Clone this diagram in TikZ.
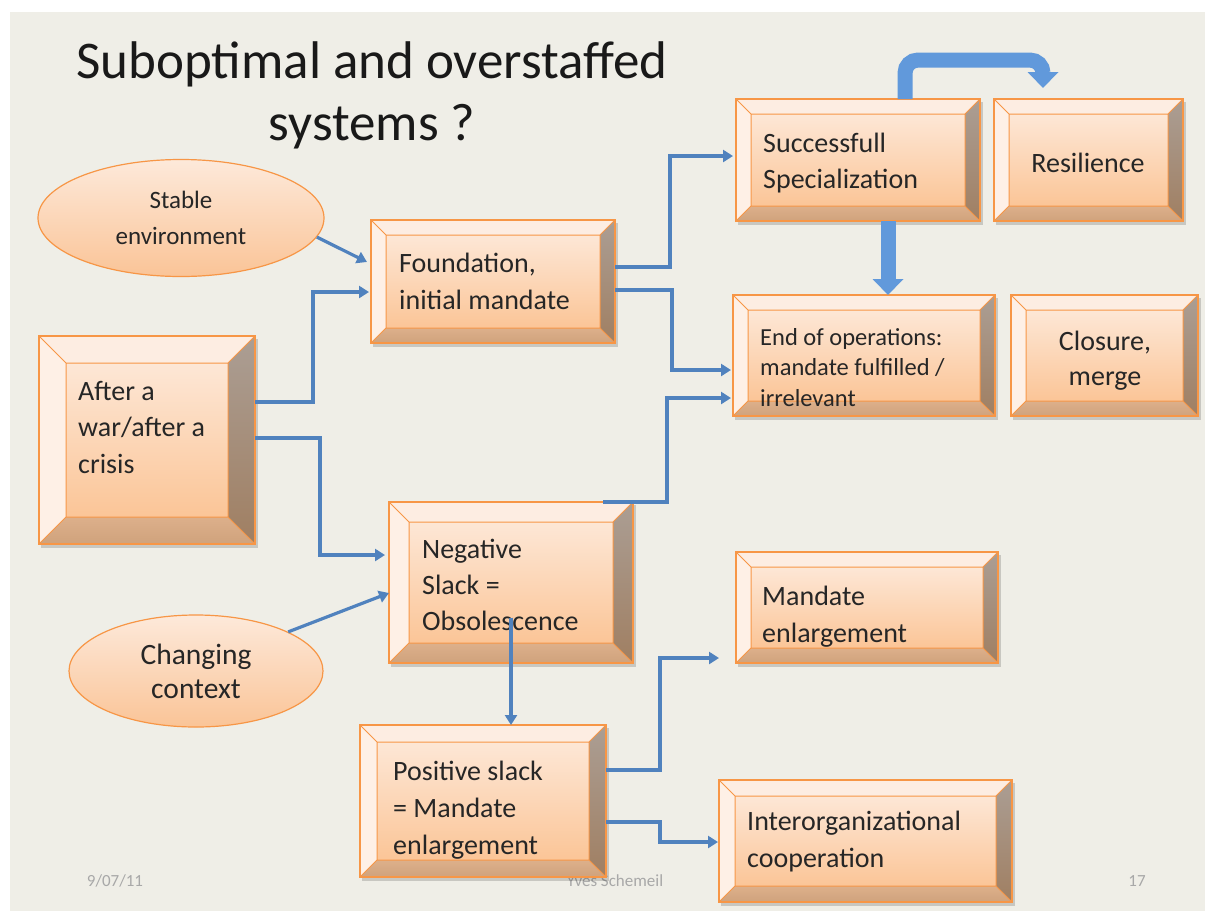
\documentclass[tikz,border=0pt]{standalone}
\usepackage{fontspec}
\setmainfont{Carlito}
\usetikzlibrary{arrows.meta,shapes.geometric,calc}
\definecolor{slidebg}{HTML}{EFEEE7}
\definecolor{bord}{HTML}{F79646}
\definecolor{facetop}{HTML}{FDE7D6}
\definecolor{facebot}{HTML}{FBC597}
\definecolor{bevtop}{HTML}{FDEDE2}
\definecolor{bevleft}{HTML}{FEF0E6}
\definecolor{bevbottop}{HTML}{DDB08B}
\definecolor{bevbotbot}{HTML}{CFA27C}
\definecolor{bevrtop}{HTML}{AB9E94}
\definecolor{bevrbot}{HTML}{A07F62}
\definecolor{ellitop}{HTML}{FDE9DA}
\definecolor{ellibot}{HTML}{FAC497}
\definecolor{arrowblue}{HTML}{5082BE}
\definecolor{bigblue}{HTML}{6199DB}
\definecolor{foot}{HTML}{A8A8A8}
\definecolor{txt}{HTML}{262626}
\tikzset{
  boxnode/.style={rectangle, inner sep=0pt, outer sep=0pt},
  ell/.style={ellipse, draw=bord, line width=1.2pt, top color=ellitop, bottom color=ellibot, inner sep=0pt, align=center, text=txt, font=\fontsize{25}{36}\selectfont},
  arr/.style={draw=arrowblue, line width=3.2pt, -{Triangle[length=10pt,width=12pt]}},
  bigarr/.style={draw=bigblue, line width=15pt, -{Triangle[length=16pt,width=30pt]}},
  boxtext/.style={anchor=base west, align=left, inner sep=0pt, text=txt, font=\fontsize{28}{37}\selectfont},
  ctext/.style={anchor=base, align=center, inner sep=0pt, text=txt, font=\fontsize{28}{35}\selectfont},
  foottext/.style={anchor=base, inner sep=0pt, text=foot, font=\fontsize{17}{20}\selectfont},
}
\newcommand\drawbevel[2]{%
  \coordinate (o1) at (#1.north west);
  \coordinate (o2) at (#1.north east);
  \coordinate (o3) at (#1.south east);
  \coordinate (o4) at (#1.south west);
  \coordinate (i1) at ([shift={(#2pt,-#2pt)}]#1.north west);
  \coordinate (i2) at ([shift={(-#2pt,-#2pt)}]#1.north east);
  \coordinate (i3) at ([shift={(-#2pt,#2pt)}]#1.south east);
  \coordinate (i4) at ([shift={(#2pt,#2pt)}]#1.south west);
  \fill[black, opacity=.16] ([shift={(2pt,-3pt)}]#1.north west) rectangle ([shift={(3pt,-4pt)}]#1.south east);
  \shade[top color=facetop, bottom color=facebot] (i1) rectangle (i3);
  \fill[bevtop] (o1)--(o2)--(i2)--(i1)--cycle;
  \fill[bevleft] (o1)--(i1)--(i4)--(o4)--cycle;
  \shade[top color=bevbottop, bottom color=bevbotbot] (o4)--(i4)--(i3)--(o3)--cycle;
  \shade[top color=bevrtop, bottom color=bevrbot] (o2)--(o3)--(i3)--(i2)--cycle;
  \draw[bord, line width=1pt] (o1)--(i1) (o2)--(i2) (o3)--(i3) (o4)--(i4) (i1) rectangle (i3);
  \draw[bord, line width=1.5pt] (o1) rectangle (o3);
}
\newcommand\bevelbox[6]{%
  \pgfmathsetmacro\bxw{#4-#2}\pgfmathsetmacro\bxh{#5-#3}%
  \node[boxnode, minimum width=\bxw pt, minimum height=\bxh pt] (#1) at ({(#2+#4)/2},{(#3+#5)/2}) {};
  \drawbevel{#1}{#6}}
\begin{document}
\begin{tikzpicture}[x=1pt,y=-1pt]
\useasboundingbox (0,0) rectangle (1205,911);
\fill[white] (0,0) rectangle (1205,911);
\fill[slidebg] (10,12) rectangle (1205,911);

% title (base anchor = baseline of the last line)
\node[anchor=base, align=center, inner sep=0pt, text=black!90, font=\fontsize{53}{62}\selectfont] (title) at (372,140) {Suboptimal and overstaffed\\systems ?};

% footer
\node[foottext] (date) at (115,886) {9/07/11};
\node[foottext] (author) at (615,886) {Yves Schemeil};
\node[foottext] (page) at (1137,886) {17};

% ellipses
\node[ell, minimum width=286pt, minimum height=117pt] (stable) at (181,218) {Stable\\environment};
\node[ell, minimum width=254pt, minimum height=112pt, font=\fontsize{29.5}{34}\selectfont] (changing) at (196,671) {\raisebox{-5pt}{Changing}\\\raisebox{-5pt}{context}};

% boxes
\bevelbox{spec}{736}{99}{980}{221}{15}
\bevelbox{resil}{994}{99}{1183}{221}{15}
\bevelbox{found}{371}{220}{615}{343}{15}
\bevelbox{endops}{733}{295}{995}{416}{15}
\bevelbox{closure}{1011}{295}{1198}{416}{15}
\bevelbox{war}{39}{336}{255}{544}{27}
\bevelbox{neg}{389}{502}{633}{663}{20}
\bevelbox{mandate}{736}{552}{998}{663}{15}
\bevelbox{pos}{360}{725}{606}{877}{17}
\bevelbox{inter}{719}{780}{1012}{902}{16}

% box texts (positions give the baseline of the last line)
\node[boxtext, font=\fontsize{28}{36}\selectfont] (specT) at (763,188) {Successfull\\Specialization};
\node[ctext] (resilT) at (1088,172) {Resilience};
\node[boxtext] (foundT) at (399,309) {Foundation,\\initial mandate};
\node[boxtext, font=\fontsize{24.5}{30.5}\selectfont] (endopsT) at (760,406) {End of operations:\\mandate fulfilled /\\irrelevant};
\node[ctext] (closureT) at (1105,385) {Closure,\\merge};
\node[boxtext, font=\fontsize{28}{36.5}\selectfont] (warT) at (78,473) {After a\\war/after a\\crisis};
\node[boxtext, font=\fontsize{28}{36}\selectfont] (negT) at (422,630) {Negative\\Slack =\\Obsolescence};
\node[boxtext] (mandateT) at (762,642) {Mandate\\enlargement};
\node[boxtext] (posT) at (393,854) {Positive slack\\= Mandate\\enlargement};
\node[boxtext] (interT) at (747,867) {Interorganizational\\cooperation};

% connectors
\draw[arr] (stable.-8) -- ([shift={(-4pt,19.5pt)}]found.west);
\draw[arr] ([yshift=38pt]war.east) -- ++(58,0) |- ([shift={(-2pt,-10.5pt)}]found.west);
\draw[arr] ([yshift=2pt]war.east) -- ++(65,0) |- ([shift={(-4pt,27.5pt)}]neg.west);
\draw[arr] (changing.23) -- ([yshift=-10.5pt]neg.west);
\draw[arr] ([yshift=14.5pt]found.east) -- ++(55,0) |- ([shift={(-3pt,4pt)}]spec.west);
\draw[arr] ([yshift=-8.5pt]found.east) -- ++(57,0) |- ([shift={(-2pt,-14.5pt)}]endops.west);
\draw[arr] ([xshift=-30pt]neg.north east) -- ++(64,0) |- ([shift={(-2pt,-42.5pt)}]endops.west);
\draw[arr] ([yshift=-35pt]neg.center) -- ([xshift=28pt]pos.north);
\draw[arr] ([yshift=31pt]pos.east) -- ++(54,0) |- ([shift={(-17pt,-50.5pt)}]mandate.west);
\draw[arr] ([yshift=-21pt]pos.east) -- ++(54,0) |- ([shift={(-1pt,-1pt)}]inter.west);
\draw[bigarr] ([xshift=30pt]spec.south) -- ([xshift=24pt]endops.north);
\draw[bigarr, rounded corners=13pt] ([xshift=47pt]spec.north) -- ++(0,-39) -| ([shift={(-45.5pt,11pt)}]resil.north);
\end{tikzpicture}
\end{document}
